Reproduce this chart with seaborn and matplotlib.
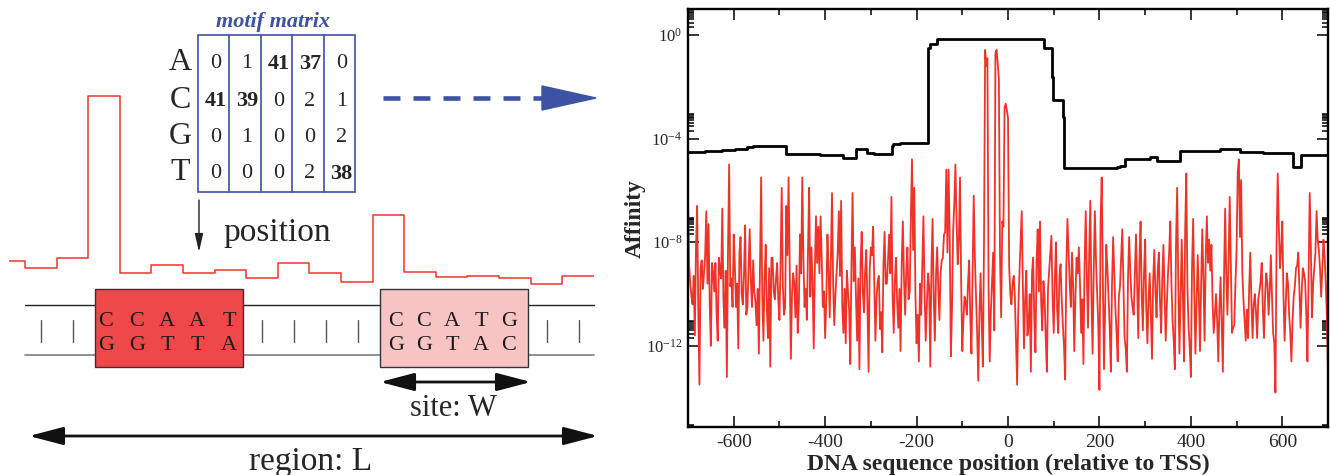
import numpy as np
import pandas as pd
import matplotlib
matplotlib.use("Agg")
import matplotlib.pyplot as plt
from matplotlib.patches import Rectangle, Polygon
from matplotlib.ticker import FixedLocator, FuncFormatter, MultipleLocator
import seaborn as sns

# --- data ---
bases = ["A", "C", "G", "T"]
motif_counts = [[0, 1, 41, 37, 0],
                [41, 39, 0, 2, 1],
                [0, 1, 0, 0, 2],
                [0, 0, 0, 2, 38]]
site1_top, site1_bot = "CCAAT", "GGTTA"
site2_top, site2_bot = "CCATG", "GGTAC"
# schematic affinity profile along the region (one value per site window)
profile_scores = [29, 22, 32, 194, 17, 25, 17, 20, 12, 27, 17, 8, 75, 18, 13, 14, 12, 6, 14]

# red: log10 site affinity, read every 5 bp from -700 to 700 ...
red_start, red_step = -700, 5
red_log = [
    -6.25, -9.6, -10.4, -11.6, -6.6, -13.5, -8.7, -9.2, -6.8, -7.3,
    -12.0, -9.2, -8.8, -11.8, -9.1, -6.7, -11.3, -13.2, -5.0, -9.4,
    -7.7, -10.5, -12.1, -7.8, -10.4, -7.35, -10.5, -7.5, -10.5, -9.9,
    -11.2, -12.3, -5.5, -11.8, -8.1, -11.7, -12.8, -8.6, -10.2, -8.8,
    -11.0, -5.9, -10.8, -6.6, -5.5, -12.5, -9.2, -10.9, -11.5, -7.7,
    -5.5, -10.5, -11.0, -5.9, -8.2, -12.1, -7.0,
    -7.4, -7.0, -10.5, -11.7, -7.7, -10.9, -6.1, -11.2, -9.2, -6.8,
    -6.4, -11.5, -11.9, -9.9, -12.7, -6.1, -8.2, -11.8, -12.9, -7.6,
    -10.7, -8.3, -13.0, -8.2, -7.4, -11.8, -9.5, -11.35, -12.25, -7.6,
    -9.6, -7.7, -6.25, -11.5, -8.6, -11.3, -12.2, -7.2, -10.8, -8.2,
    -9.9, -4.8, -5.9, -11.9, -12.6, -10.8, -7.0, -11.8, -9.2, -12.8,
    -7.1, -11.8, -8.2, -11.0, -8.7, -7.7, -5.2,
    -5.2, -12.4, -7.55, -5.0, -8.85, -5.5, -12.2, -10.1, -10.8, -8.7,
    -12.3, -6.2, -10.0, -13.35, -9.2, -12.8, -0.58, -0.9, -12.6, -9.6,
    -11.4, -0.58, -1.7, -10.9, -7.4, -2.65, -3.2, -10.0, -9.6, -10.1,
    -13.5, -9.2, -6.8, -12.1, -9.1, -11.2, -13.0, -8.6, -12.25, -7.5,
    -7.2, -11.4, -10.1, -13.0, -9.1, -7.75, -11.5, -8.0, -11.5, -8.85,
    -11.2, -13.3, -7.1, -9.6, -8.4, -12.2, -8.6,
    -8.2, -11.5, -12.7, -6.8, -11.3, -6.4, -12.3, -6.8, -10.0, -13.7,
    -5.5, -12.9, -8.1, -10.1, -13.0, -7.8, -10.6, -12.6, -9.7, -7.5,
    -11.7, -13.0, -7.8, -10.1, -10.8, -7.7, -11.7, -7.2, -11.4, -7.9,
    -11.9, -9.2, -12.5, -8.3, -10.9, -8.4, -11.5, -8.1, -11.8, -9.2,
    -7.2, -11.0, -12.9, -5.9, -12.3, -7.9, -12.6, -5.35, -11.3, -13.2,
    -7.1, -12.3, -8.5, -12.2, -7.5, -11.8, -7.0,
    -7.9, -8.1, -11.5, -10.0, -12.6, -9.35, -13.0, -6.7, -10.8, -6.25,
    -11.5, -11.2, -8.3, -4.8, -5.6, -10.2, -11.8, -11.7, -8.4, -11.7,
    -10.0, -11.7, -9.9, -8.8, -11.7, -9.2, -10.8, -8.5, -11.5, -13.8,
    -5.35, -9.0, -7.2, -11.8, -9.2, -10.8, -12.6, -10.1, -9.0, -8.4,
    -11.3, -9.0, -9.5, -12.6, -6.1, -10.9, -9.0, -6.8, -8.3, -10.1,
    -7.9, -9.5, -13.0,
]
# ... and the dense band in between (every 5 bp from -697.5)
red_mid_start = -697.5
red_mid_log = [
    -8.9, -10.1, -9.3, -8.2, -10.6, -9.0, -9.8, -8.5, -9.6, -10.4,
    -8.8, -9.9, -10.7, -8.6, -9.4, -10.2, -9.1, -8.3, -9.7, -10.5,
    -8.9, -9.6, -8.4, -10.0, -9.2, -10.8, -9.0, -9.5, -8.7, -10.3,
    -9.8, -8.9, -10.1, -9.3, -10.6, -9.0, -8.6, -9.9, -9.4, -10.2,
    -8.8, -9.7, -10.5, -8.5, -9.1, -10.0, -9.6, -8.9, -10.4, -9.2,
    -8.7, -9.8, -8.3, -10.1, -9.5, -9.0, -8.8,
    -9.2, -8.6, -9.9, -10.3, -9.0, -8.7, -9.6, -10.0, -8.4, -9.3,
    -10.5, -9.8, -9.1, -10.6, -8.9, -9.5, -10.2, -9.4, -8.8, -9.9,
    -9.1, -10.4, -9.0, -8.5, -9.7, -10.1, -9.3, -10.7, -8.9, -9.6,
    -8.7, -9.2, -10.0, -9.5, -10.3, -9.8, -8.8, -9.4, -9.1, -10.2,
    -7.0, -8.3, -10.0, -10.8, -9.6, -8.9, -9.9, -10.4, -9.7, -9.0,
    -10.1, -9.3, -9.8, -9.2, -8.6, -7.6, -8.4,
    -7.8, -10.6, -6.5, -7.2, -7.9, -9.5, -11.0, -10.3, -9.6, -10.9,
    -9.1, -8.6, -11.5, -10.8, -11.1, -8.0, -1.2, -9.8, -10.7, -8.4,
    -0.7, -1.1, -8.5, -7.2, -2.8, -2.9, -8.9, -10.4, -9.3, -11.8,
    -10.6, -8.0, -9.7, -10.2, -11.6, -10.0, -9.2, -10.9, -8.7, -9.9,
    -10.3, -9.5, -11.7, -9.8, -8.4, -10.1, -9.4, -10.6, -9.3, -10.2,
    -12.0, -9.0, -8.3, -10.5, -9.7, -10.1, -9.2,
    -9.6, -10.2, -8.9, -9.3, -8.5, -10.0, -9.1, -8.7, -11.2, -7.2,
    -9.4, -10.4, -9.0, -11.3, -9.6, -9.2, -11.5, -10.1, -8.6, -9.7,
    -12.1, -9.4, -9.1, -10.5, -9.3, -9.8, -8.7, -10.0, -9.2, -10.6,
    -10.2, -10.8, -9.5, -9.9, -9.1, -10.3, -9.4, -10.0, -10.4, -8.4,
    -9.6, -11.8, -8.1, -9.5, -10.1, -10.0, -7.6, -9.7, -12.0, -9.0,
    -9.9, -10.3, -10.1, -9.6, -9.4, -8.6, -8.8,
    -9.1, -10.3, -10.8, -11.0, -10.5, -11.2, -9.4, -9.3, -8.8, -9.0,
    -11.3, -9.6, -5.3, -7.8, -9.1, -11.0, -10.6, -9.8, -10.3, -10.4,
    -10.7, -10.2, -9.5, -10.6, -10.0, -9.6, -9.9, -10.1, -11.9, -8.0,
    -7.4, -8.3, -10.0, -10.4, -9.6, -11.5, -11.0, -9.7, -8.9, -9.8,
    -9.9, -9.2, -10.8, -9.4, -8.2, -9.6, -8.4, -7.9, -9.0, -9.1,
    -8.5, -10.9,
]

# black: log10 total region affinity (sliding window), step changes
black_pos = [-700, -662, -626, -597, -571, -557, -485, -411, -374, -360, -333,
             -309, -294, -254, -251, -236, -174, -170, -156, 78, 97, 99, 120, 122,
             238, 245, 256, 310, 325, 376, 463, 507, 558, 624, 642, 700]
black_log = [-4.52, -4.49, -4.45, -4.40, -4.34, -4.30, -4.58, -4.62, -4.65, -4.75, -4.41,
             -4.54, -4.58, -4.28, -4.22, -4.17, -0.52, -0.35, -0.15, -0.52, -1.61, -2.50, -3.16, -5.14,
             -5.10, -5.06, -4.77, -4.71, -4.86, -4.48, -4.41, -4.52, -4.55, -5.10, -4.62, -4.62]

x_ticks = [-600, -400, -200, 0, 200, 400, 600]
y_major_exp = [-16, -12, -8, -4, 0]

red_df = pd.concat([
    pd.DataFrame({"pos": np.arange(len(red_log)) * red_step + red_start, "lg": red_log}),
    pd.DataFrame({"pos": np.arange(len(red_mid_log)) * red_step + red_mid_start, "lg": red_mid_log}),
]).sort_values("pos")
red_df["aff"] = 10.0 ** red_df["lg"]
black_df = pd.DataFrame({"pos": black_pos, "aff": 10.0 ** np.array(black_log)})

# --- style ---
sns.set_style("ticks")
plt.rcParams['font.family'] = ['Liberation Serif', 'DejaVu Serif']
plt.rcParams['mathtext.fontset'] = 'custom'
plt.rcParams['mathtext.rm'] = 'Liberation Serif'
plt.rcParams['mathtext.it'] = 'Liberation Serif:italic'
plt.rcParams['mathtext.bf'] = 'Liberation Serif:bold'
plt.rcParams['axes.unicode_minus'] = False
plt.rcParams['lines.scale_dashes'] = False

blue = '#3c52a3'
red = '#ee3429'

fig = plt.figure(figsize=(13.3, 4.75), dpi=100)

# ---------- left schematic (pixel coordinates) ----------
ax_l = fig.add_axes([0, 0, 1, 1])
ax_l.set_xlim(0, 1330)
ax_l.set_ylim(475, 0)
ax_l.axis('off')
ax_l.patch.set_visible(False)

ax_l.text(273, 22, "motif matrix", color=blue, fontsize=16, fontweight='bold',
          style='italic', ha='center', va='center')
m_left, m_top, m_bot, col_w = 198, 35, 192, 31.4
n_col = len(motif_counts[0])
ax_l.add_patch(Rectangle((m_left, m_top), col_w * n_col, m_bot - m_top,
                         fill=False, ec=blue, lw=1.2))
for k in range(1, n_col):
    ax_l.plot([m_left + k * col_w] * 2, [m_top, m_bot], color=blue, lw=1.2)
row_y = [63, 100, 137, 173]
for r, b in enumerate(bases):
    ax_l.text(180, row_y[r], b, fontsize=23, ha='center', va='center')
    for c, v in enumerate(motif_counts[r]):
        ax_l.text(m_left + (c + 0.5) * col_w + 2, row_y[r] + 1, str(v), fontsize=16,
                  fontweight='bold' if v > 30 else 'normal', ha='center', va='center')

# dashed blue arrow
ax_l.plot([383, 545], [98, 98], color=blue, lw=3.3, ls=(0, (12.2, 9.4)),
          solid_capstyle='butt', dash_capstyle='butt')
ax_l.add_patch(Polygon([(542, 86), (596, 98), (542, 110)], closed=True, color=blue))

# position arrow
ax_l.annotate('', xy=(199, 252), xytext=(199, 200),
              arrowprops=dict(arrowstyle='-|>,head_length=1.1,head_width=0.25',
                              mutation_scale=10, lw=1.0, color='#222222',
                              shrinkA=0, shrinkB=0))
ax_l.text(277, 233, "position", fontsize=24, ha='center', va='center')

# DNA strands
ax_l.plot([25, 594], [305, 305], color='#222222', lw=1.0, zorder=1)
ax_l.plot([25, 594], [355, 355], color='#888888', lw=1.3, zorder=1)
for xt in [41, 73, 262, 294, 326, 358, 547, 579]:
    ax_l.plot([xt, xt], [320, 342], color='#555555', lw=1.0, zorder=1)

ax_l.add_patch(Rectangle((95, 289), 148, 78, fc='#ef4848', ec='#333333', lw=1.0, zorder=2))
ax_l.add_patch(Rectangle((380, 289), 148, 78, fc='#f8c3c3', ec='#333333', lw=1.0, zorder=2))
for xs, top, bot in [([106, 137, 167, 197, 229], site1_top, site1_bot),
                     ([396, 424, 452, 481, 509], site2_top, site2_bot)]:
    for xx, a, bb in zip(xs, top, bot):
        ax_l.text(xx, 321, a, fontsize=16, color='#1a1a1a', ha='center', va='center', zorder=3)
        ax_l.text(xx, 345, bb, fontsize=16, color='#1a1a1a', ha='center', va='center', zorder=3)

arrow_kw = dict(arrowstyle='<|-|>,head_length=2.1,head_width=0.55', mutation_scale=10,
                lw=2.0, color='#111111', shrinkA=0, shrinkB=0)
ax_l.annotate('', xy=(531, 382), xytext=(380, 382), arrowprops=arrow_kw)
ax_l.text(453, 408, "site: W", fontsize=22, ha='center', va='center')
ax_l.annotate('', xy=(598, 436), xytext=(29, 436), arrowprops=arrow_kw)
ax_l.text(311, 462, "region: L", fontsize=24, ha='center', va='center')

# affinity profile above the DNA
ax_p = fig.add_axes([9.2 / 1330, (475 - 290) / 475, 584.6 / 1330, 200 / 475])
ax_p.patch.set_visible(False)
edges = [-0.5] + list(range(len(profile_scores)))
sns.lineplot(x=edges, y=profile_scores + profile_scores[-1:], drawstyle='steps-post',
             color=red, lw=1.1, ax=ax_p, estimator=None)
ax_p.set_xlim(-0.5, len(profile_scores) - 1)
ax_p.set_ylim(0, 200)
ax_p.axis('off')

# ---------- right plot ----------
ax = fig.add_axes([688 / 1330, 48 / 475, 640 / 1330, 418 / 475])
sns.lineplot(data=red_df, x="pos", y="aff", color=red, lw=1.3, ax=ax, estimator=None)
sns.lineplot(data=black_df, x="pos", y="aff", color='black', lw=2.0, ax=ax,
             estimator=None, drawstyle='steps-post')
ax.set_yscale('log')
ax.set_xlim(-700, 700)
ax.set_ylim(10 ** -15.13, 10 ** 1.0)
ax.xaxis.set_major_locator(FixedLocator(x_ticks))
ax.xaxis.set_minor_locator(MultipleLocator(100))
ax.yaxis.set_major_locator(FixedLocator([10.0 ** e for e in y_major_exp]))
ax.yaxis.set_minor_locator(FixedLocator([m * 10.0 ** e for e in y_major_exp for m in range(2, 10)]))
ax.yaxis.set_major_formatter(FuncFormatter(lambda v, p: "$10^{%d}$" % round(np.log10(v))))
ax.yaxis.set_minor_formatter(FuncFormatter(lambda v, p: ""))
ax.tick_params(which='both', direction='in', top=True, right=True, width=1.1, color='black')
ax.tick_params(which='major', length=8)
ax.tick_params(which='minor', length=4.5)
ax.tick_params(axis='x', labelsize=14, pad=5)
ax.tick_params(axis='y', labelsize=12, pad=4)
for s in ax.spines.values():
    s.set_linewidth(1.7)
    s.set_color('black')
ax.set_xlabel("DNA sequence position (relative to TSS)", fontsize=17, fontweight='bold')
ax.set_ylabel("Affinity", fontsize=17, fontweight='bold')
ax.xaxis.set_label_coords(0.5, -0.065)
ax.yaxis.set_label_coords(-0.066, 0.5)

fig.savefig("out.png", dpi=100)
